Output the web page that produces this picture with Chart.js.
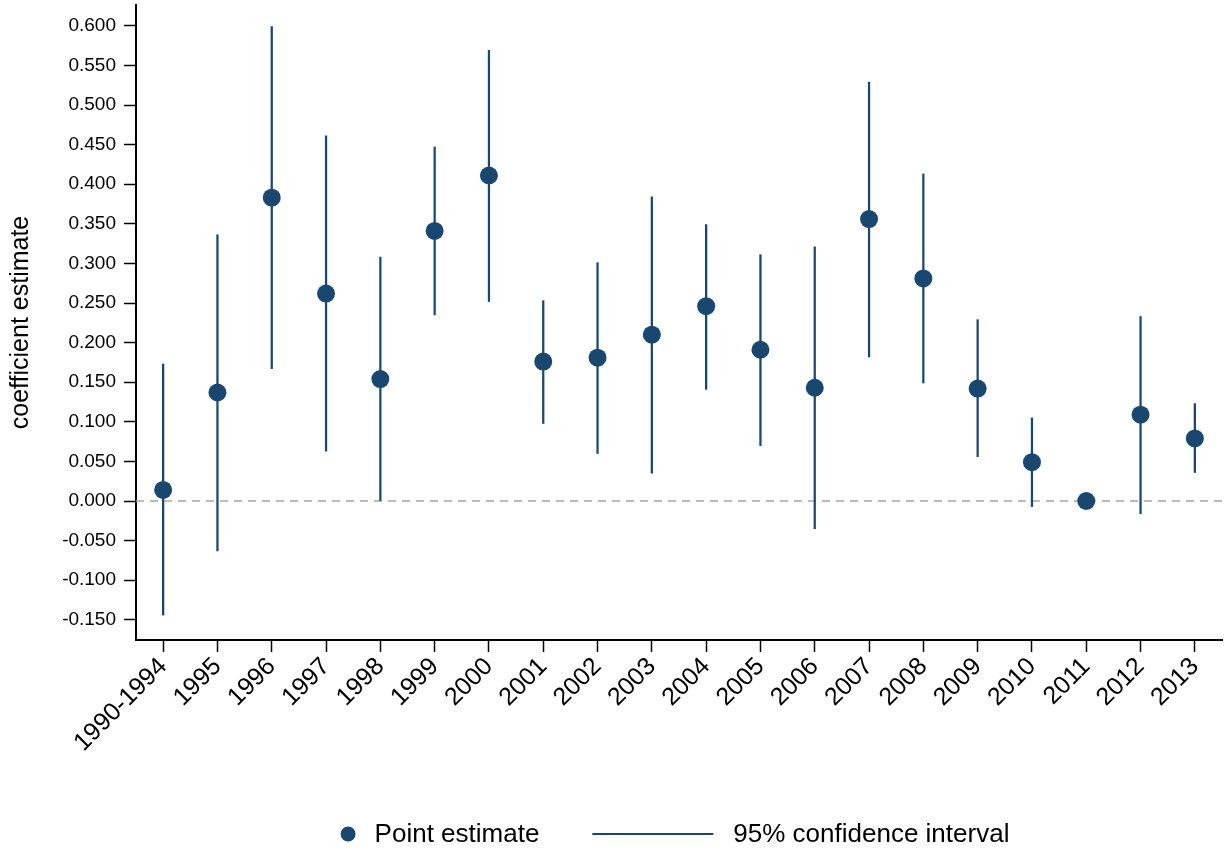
<!DOCTYPE html>
<html>
<head>
<meta charset="utf-8">
<script src="https://cdn.jsdelivr.net/npm/chart.js@4"></script>
<style>
  html, body { margin: 0; padding: 0; background: #ffffff; }
  #wrap { width: 1225px; height: 849px; }
</style>
</head>
<body>
<div id="wrap"><canvas id="c" width="1225" height="849"></canvas></div>
<script>
// Year groups on the horizontal axis
const categories = ['1990-1994', '1995', '1996', '1997', '1998', '1999', '2000', '2001', '2002', '2003',
  '2004', '2005', '2006', '2007', '2008', '2009', '2010', '2011', '2012', '2013'];

// Point estimates of the coefficient
const estimates = [0.014, 0.137, 0.383, 0.262, 0.154, 0.341, 0.411, 0.176, 0.181, 0.210,
  0.246, 0.191, 0.143, 0.356, 0.281, 0.142, 0.049, 0.000, 0.109, 0.079];

// Lower and upper bounds of the 95% confidence interval (2011 is the reference year)
const ciLow = [-0.144, -0.063, 0.167, 0.063, 0.000, 0.235, 0.252, 0.098, 0.060, 0.035,
  0.141, 0.070, -0.035, 0.182, 0.149, 0.056, -0.007, null, -0.016, 0.036];
const ciHigh = [0.173, 0.336, 0.599, 0.461, 0.308, 0.447, 0.569, 0.253, 0.301, 0.384,
  0.349, 0.311, 0.321, 0.529, 0.413, 0.229, 0.105, null, 0.233, 0.123];

// Vertical axis tick values
const yTicks = [-0.15, -0.10, -0.05, 0.00, 0.05, 0.10, 0.15, 0.20, 0.25, 0.30, 0.35, 0.40, 0.45, 0.50, 0.55, 0.60];

const NAVY = '#1a476f';
const FONT = "'Liberation Sans', Arial, Helvetica, sans-serif";

const ciBars = ciLow.map((lo, i) => (lo === null || ciHigh[i] === null) ? null : [lo, ciHigh[i]]);

// Dashed reference line at zero across the whole plot width
const zeroLine = {
  id: 'zeroLine',
  beforeDatasetsDraw(chart) {
    const { ctx, chartArea } = chart;
    const y = chart.scales.y.getPixelForValue(0);
    ctx.save();
    ctx.strokeStyle = '#a8a8a8';
    ctx.lineWidth = 1.5;
    ctx.setLineDash([8, 6]);
    ctx.beginPath();
    ctx.moveTo(chartArea.left, y);
    ctx.lineTo(chartArea.right, y);
    ctx.stroke();
    ctx.restore();
  }
};

// Legend row below the axis: marker key and line key
const legendRow = {
  id: 'legendRow',
  afterDraw(chart) {
    const { ctx, chartArea } = chart;
    const fontSize = 26;
    ctx.save();
    ctx.font = fontSize + 'px ' + FONT;
    ctx.fillStyle = '#000000';
    ctx.textBaseline = 'middle';
    ctx.textAlign = 'left';
    const items = chart.data.datasets.slice().sort((a, b) => a.legendIndex - b.legendIndex);
    const r = 7.5, gapMarkerText = 19, gapItems = 53, lineLen = 121, gapLineText = 20;
    const w0 = ctx.measureText(items[0].label).width;
    const w1 = ctx.measureText(items[1].label).width;
    const total = 2 * r + gapMarkerText + w0 + gapItems + lineLen + gapLineText + w1;
    let x = (chartArea.left + chartArea.right) / 2 - total / 2 - 4;
    const y = chart.height - 15;
    // point key
    ctx.fillStyle = NAVY;
    ctx.beginPath();
    ctx.arc(x + r, y, r, 0, Math.PI * 2);
    ctx.fill();
    x += 2 * r + gapMarkerText;
    ctx.fillStyle = '#000000';
    ctx.fillText(items[0].label, x, y + 1);
    x += w0 + gapItems;
    // line key
    ctx.strokeStyle = NAVY;
    ctx.lineWidth = 2;
    ctx.beginPath();
    ctx.moveTo(x, y);
    ctx.lineTo(x + lineLen, y);
    ctx.stroke();
    x += lineLen + gapLineText;
    ctx.fillText(items[1].label, x, y + 1);
    ctx.restore();
  }
};

new Chart(document.getElementById('c'), {
  data: {
    labels: categories,
    datasets: [
      {
        type: 'line',
        label: 'Point estimate',
        legendIndex: 0,
        data: estimates,
        showLine: false,
        pointRadius: 9,
        pointHoverRadius: 9,
        pointBackgroundColor: NAVY,
        pointBorderWidth: 0,
        borderColor: NAVY,
        order: 0
      },
      {
        type: 'bar',
        label: '95% confidence interval',
        legendIndex: 1,
        data: ciBars,
        backgroundColor: NAVY,
        borderWidth: 0,
        barThickness: 1.6,
        order: 1
      }
    ]
  },
  options: {
    responsive: false,
    animation: false,
    devicePixelRatio: 1,
    layout: { autoPadding: false, padding: { left: 0, top: 5, right: 3, bottom: 0 } },
    plugins: {
      legend: { display: false },
      tooltip: { enabled: false }
    },
    scales: {
      x: {
        type: 'category',
        offset: true,
        grid: {
          offset: false,
          drawOnChartArea: false,
          drawTicks: true,
          tickLength: 12,
          tickWidth: 1.5,
          tickColor: '#000000'
        },
        border: { display: true, color: '#000000', width: 2 },
        ticks: {
          autoSkip: false,
          minRotation: 45,
          maxRotation: 45,
          padding: 0,
          color: '#000000',
          font: { family: FONT, size: 25 }
        },
        afterFit(scale) { scale.height = 209; }
      },
      y: {
        type: 'linear',
        min: -0.1755,
        max: 0.6263,
        afterBuildTicks(scale) { scale.ticks = yTicks.map(v => ({ value: v })); },
        grid: {
          drawOnChartArea: false,
          drawTicks: true,
          tickLength: 12,
          tickWidth: 1.5,
          tickColor: '#000000'
        },
        border: { display: true, color: '#000000', width: 2 },
        ticks: {
          padding: 8,
          color: '#000000',
          font: { family: FONT, size: 19 },
          callback: (v) => Number(v).toFixed(3)
        },
        title: {
          display: true,
          text: 'coefficient estimate',
          color: '#000000',
          font: { family: FONT, size: 25 },
          padding: { top: 6, bottom: 0 }
        },
        afterFit(scale) {
          scale.width = 136;
          scale.paddingTop = 0;
          scale.paddingBottom = 0;
        }
      }
    }
  },
  plugins: [zeroLine, legendRow]
});
</script>
</body>
</html>
